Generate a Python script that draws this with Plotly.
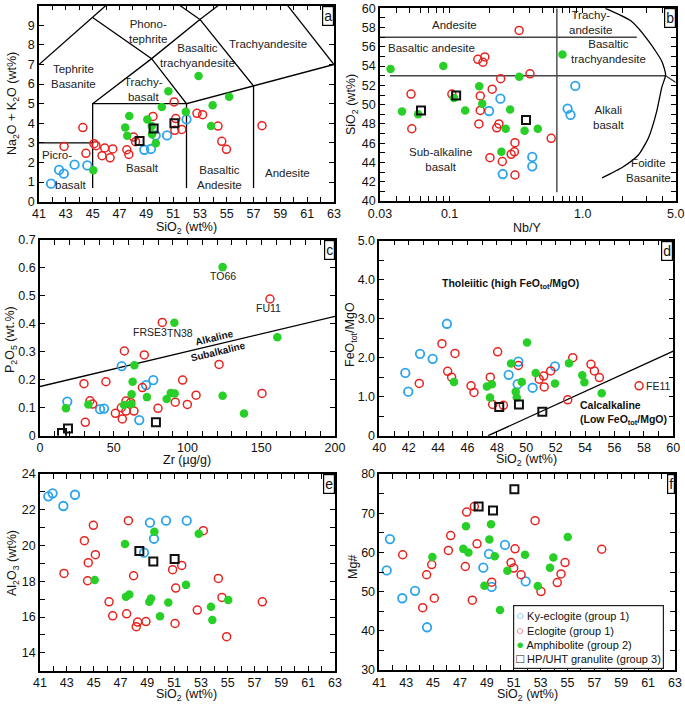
import math
import plotly.graph_objects as go

W, H = 685, 705
FONT = "Liberation Sans"
C_KY, C_EC, C_AM, C_GR = "#2AA4EE", "#E8231F", "#27CF27", "#111111"
NAMES = ["Ky-eclogite (group 1)", "Eclogite (group 1)", "Amphibolite (group 2)", "HP/UHT granulite (group 3)"]

# ---------------- Panel a (TAS) ----------------
a_ky_si = [41.9, 42.5, 42.85, 43.65, 44.6, 48.85, 49.35, 49.7, 50.55, 52.0]
a_ky_alk = [0.92, 1.62, 1.43, 1.89, 1.85, 2.65, 2.69, 3.38, 3.38, 4.2]
a_ec_si = [42.87, 44.27, 44.5, 45.1, 45.25, 45.7, 45.9, 46.3, 46.5, 47.55, 47.7, 48.05, 48.2,
           49.5, 51.08, 51.2, 51.13, 51.65, 52.78, 53.2, 54.35, 54.63, 54.98, 57.63]
a_ec_alk = [2.82, 3.78, 2.47, 2.96, 2.86, 2.35, 2.74, 2.24, 2.69, 2.65, 2.41, 3.3, 3.06,
            4.35, 5.09, 4.24, 3.64, 3.69, 4.51, 4.44, 3.86, 3.08, 2.67, 3.88]
a_am_si = [45.05, 47.43, 47.58, 47.73, 49.08, 49.41, 49.43, 49.71, 50.16, 50.65, 51.95, 52.9, 53.95, 53.83, 55.18]
a_am_alk = [1.6, 3.79, 3.37, 4.37, 4.2, 3.86, 3.44, 2.98, 4.83, 5.63, 4.59, 6.41, 4.92, 3.86, 5.36]
a_gr_si = [48.5, 49.55, 51.1]
a_gr_alk = [3.1, 3.74, 4.0]

tas_x = [[41, 45], [45, 45, 52, 52], [41, 45, 45.97], [45, 49.4, 52, 57, 63],
         [45, 49.4, 53, 51.54], [53, 57, 57], [53, 54.34], [59.55, 63]]
tas_y = [[3, 3], [0.7, 5, 5, 0.7], [7, 9.4, 10], [9.4, 7.3, 5, 5.9, 7],
         [5, 7.3, 9.3, 10], [9.3, 5.9, 0.7], [9.3, 10], [10, 7]]
tas_lab = ["Phono-<br>tephrite", "Tephrite<br>Basanite", "Trachy-<br>basalt", "Basaltic<br>trachyandesite",
           "Trachyandesite", "Picro-", "basalt", "Basalt", "Basaltic<br>Andesite", "Andesite"]
tas_lab_x = [49.1, 43.6, 48.8, 52.8, 58.1, 42.35, 43.35, 48.7, 54.45, 59.5]
tas_lab_y = [8.7, 6.4, 5.75, 7.45, 8.03, 2.38, 0.85, 1.7, 1.25, 1.45]

# ---------------- Panel b (Nb/Y vs SiO2) ----------------
b_ky_nb = [0.198, 0.241, 0.251, 0.418, 0.418, 0.77, 0.81, 0.88]
b_ky_si = [49.34, 50.62, 42.8, 44.57, 43.6, 49.58, 48.93, 51.94]
b_ec_nb = [0.0513, 0.052, 0.104, 0.163, 0.178, 0.184, 0.17, 0.17, 0.166, 0.209, 0.242, 0.226, 0.235,
           0.201, 0.249, 0.29, 0.307, 0.31, 0.31, 0.333, 0.402, 0.58]
b_ec_si = [51.1, 47.5, 51.1, 54.7, 54.4, 54.95, 50.9, 49.4, 48.0, 51.6, 52.7, 47.6, 48.0,
           44.5, 44.1, 44.85, 45.1, 46.05, 42.7, 57.7, 53.2, 46.5]
b_am_nb = [0.036, 0.0439, 0.058, 0.0897, 0.108, 0.131, 0.167, 0.176, 0.245, 0.264, 0.285, 0.334, 0.366, 0.46, 0.705]
b_am_si = [53.7, 49.3, 49.0, 54.0, 50.7, 49.4, 51.9, 50.1, 45.1, 47.5, 49.5, 52.9, 47.3, 47.5, 55.2]
b_gr_nb = [0.061, 0.112, 0.375]
b_gr_si = [49.4, 50.95, 48.4]

wp_x = [[0.03, 2.55], [0.0356, 4.2, 5.0], [0.64, 0.64],
        [1.48, 2.3, 3.13, 3.93, 4.2, 3.93, 3.6, 3.13, 2.63, 1.99, 1.4]]
wp_y = [[57, 57], [53, 53, 52.3], [40.9, 60],
        [60, 58.7, 56.6, 54.5, 53.1, 51.8, 49.3, 46.6, 44.8, 43.5, 42.4]]
wp_lab = ["Andesite", "Basaltic andesite", "Trachy-<br>andesite", "Basaltic<br>trachyandesite",
          "Alkali<br>basalt", "Foidite<br>Basanite", "Sub-alkaline<br>basalt"]
wp_lab_x = [0.109, 0.0735, 1.14, 1.57, 1.57, 3.13, 0.0848]
wp_lab_y = [58.3, 55.9, 58.55, 55.5, 48.7, 43.15, 44.35]

# ---------------- Panel c (Zr vs P2O5) ----------------
c_ky_zr = [18.5, 40.7, 43.4, 55.4, 67.3, 71.9, 76.8]
c_ky_p = [0.122, 0.095, 0.097, 0.249, 0.056, 0.181, 0.199]
c_ec_zr = [29.8, 30.7, 33.9, 35.7, 44.7, 51.1, 55.1, 55.8, 57.2, 58.3, 58.3, 61.5, 63.7, 69.4, 70.7,
           80.0, 82.9, 96.7, 121.4, 105.8, 91.7, 99.9, 150.5, 155.9]
c_ec_p = [0.186, 0.048, 0.125, 0.113, 0.193, 0.08, 0.1, 0.06, 0.303, 0.124, 0.088, 0.119, 0.088, 0.172, 0.289,
          0.098, 0.405, 0.199, 0.255, 0.145, 0.12, 0.112, 0.151, 0.489]
c_am_zr = [17.6, 32.8, 57.0, 61.9, 64.0, 62.8, 62.1, 72.5, 85.9, 88.6, 91.3, 91.1, 123.8, 160.9, 123.8, 138.3]
c_am_p = [0.098, 0.112, 0.11, 0.113, 0.252, 0.193, 0.148, 0.138, 0.131, 0.153, 0.151, 0.404, 0.603, 0.352, 0.143, 0.079]
c_gr_zr = [14.9, 19.0, 78.6]
c_gr_p = [0.0095, 0.026, 0.048]
c_line_zr = [0, 200]
c_line_p = [0.176, 0.427]
c_names = ["TO66", "FU11", "FRSE3", "TN38"]
c_names_zr = [123.8, 154.8, 74.6, 94.9]
c_names_p = [0.572, 0.458, 0.372, 0.368]

# ---------------- Panel d (SiO2 vs FeOt/MgO) ----------------
d_ky_si = [41.77, 41.97, 42.77, 43.63, 44.6, 48.8, 49.46, 49.41, 50.43, 51.95]
d_ky_r = [1.61, 1.13, 2.10, 1.97, 2.87, 1.56, 1.9, 1.32, 1.23, 1.78]
d_ec_si = [42.72, 44.26, 44.65, 44.92, 45.15, 46.24, 46.44, 47.55, 47.71, 48.44, 48.05, 49.46, 50.88,
           51.18, 51.66, 51.22, 52.82, 53.16, 54.4, 54.63, 54.97, 57.67]
d_ec_r = [1.34, 2.36, 1.65, 1.5, 2.11, 1.28, 1.11, 1.5, 0.80, 0.78, 2.15, 1.80, 1.45,
          1.53, 1.66, 1.25, 0.92, 2.0, 1.83, 1.66, 1.49, 1.28]
d_am_si = [45.08, 47.32, 47.66, 47.53, 48.96, 49.28, 49.35, 49.69, 50.05, 50.64, 51.95, 52.9, 53.81, 53.95, 55.13]
d_am_r = [1.38, 1.26, 1.32, 0.98, 1.85, 1.13, 0.98, 1.38, 2.39, 1.61, 1.34, 1.86, 1.55, 1.37, 1.09]
d_gr_si = [48.16, 49.5, 51.09]
d_gr_r = [0.735, 0.80, 0.615]
d_line_si = [47.4, 60]
d_line_r = [0.0, 2.17]

# ---------------- Panel e (SiO2 vs Al2O3) ----------------
e_ky_si = [41.62, 41.94, 42.74, 43.61, 48.76, 49.2, 49.5, 50.4, 51.94]
e_ky_al = [22.75, 22.92, 22.21, 22.84, 19.6, 21.28, 20.38, 21.39, 21.39]
e_ec_si = [42.79, 44.31, 44.98, 44.6, 44.55, 45.13, 46.15, 46.42, 47.59, 47.46, 47.98, 48.28, 48.18, 48.9,
           50.89, 51.12, 51.07, 51.57, 53.18, 52.73, 54.3, 54.57, 54.92, 57.58]
e_ec_al = [18.44, 20.27, 21.13, 19.04, 18.03, 19.49, 16.85, 16.07, 21.39, 16.18, 18.31, 15.72, 15.46, 15.75,
           18.65, 17.62, 15.64, 18.89, 20.83, 16.39, 18.16, 17.1, 14.9, 16.85]
e_am_si = [45.08, 47.34, 47.41, 47.66, 49.15, 49.28, 49.53, 49.95, 50.57, 51.89, 52.84, 53.75, 53.85, 55.04]
e_am_al = [18.07, 20.08, 17.13, 17.26, 16.85, 17.04, 20.77, 16.05, 16.82, 17.8, 20.66, 16.57, 15.83, 16.95]
e_gr_si = [48.41, 49.45, 51.04]
e_gr_al = [19.69, 19.11, 19.24]

# ---------------- Panel f (SiO2 vs Mg#) ----------------
f_ky_si = [41.55, 41.79, 42.71, 43.66, 44.55, 48.74, 49.16, 49.36, 50.35, 51.89]
f_ky_mg = [55.4, 63.4, 48.3, 50.2, 40.9, 56.1, 59.6, 51.2, 61.9, 52.6]
f_ec_si = [42.74, 44.23, 44.52, 44.9, 45.09, 46.14, 46.31, 47.4, 47.5, 47.92, 48.07, 48.27, 49.36,
           51.1, 50.8, 51.0, 51.55, 52.59, 54.24, 54.52, 54.82, 53.03, 57.55]
f_ec_mg = [59.4, 45.9, 54.3, 56.9, 48.3, 60.5, 64.3, 56.4, 70.3, 47.8, 71.7, 62.2, 52.4,
           60.9, 57.4, 56.0, 54.3, 68.1, 52.3, 54.5, 57.4, 50.0, 60.8]
f_am_si = [44.95, 47.25, 47.45, 47.63, 48.82, 49.98, 49.19, 49.31, 49.59, 50.53, 51.84, 53.7, 53.95, 55.02, 52.79]
f_am_mg = [58.8, 60.9, 66.7, 60.0, 51.5, 45.3, 63.3, 67.2, 59.0, 55.3, 59.4, 56.1, 58.7, 63.9, 51.4]
f_gr_si = [48.39, 49.46, 51.05]
f_gr_mg = [71.7, 70.7, 76.1]

# ---------------- layout geometry (pixels on the page) ----------------
boxes = {  # left, right, top, bottom
    1: (39, 334, 5.7, 201.7),
    2: (380, 675.7, 8.3, 201),
    3: (40, 335, 240, 435.7),
    4: (379.3, 673.3, 240.7, 435.7),
    5: (40, 335, 474, 670.7),
    6: (379.3, 675, 474, 670),
}


def px(xp, yp):
    return xp / W, 1 - yp / H


def dom(i):
    l, r, t, b = boxes[i]
    x0, y0 = px(l, b)
    x1, y1 = px(r, t)
    return [x0, x1], [y0, y1]


fig = go.Figure()

styles = [
    dict(symbol="circle-open", size=8.5, color=C_KY, line=dict(width=1.8, color=C_KY)),
    dict(symbol="circle-open", size=8, color=C_EC, line=dict(width=1.5, color=C_EC)),
    dict(symbol="circle", size=8.5, color=C_AM, line=dict(width=0)),
    dict(symbol="square-open", size=8, color=C_GR, line=dict(width=2, color=C_GR)),
]

panels = [
    (1, [(a_ky_si, a_ky_alk), (a_ec_si, a_ec_alk), (a_am_si, a_am_alk), (a_gr_si, a_gr_alk)]),
    (2, [(b_ky_nb, b_ky_si), (b_ec_nb, b_ec_si), (b_am_nb, b_am_si), (b_gr_nb, b_gr_si)]),
    (3, [(c_ky_zr, c_ky_p), (c_ec_zr, c_ec_p), (c_am_zr, c_am_p), (c_gr_zr, c_gr_p)]),
    (4, [(d_ky_si, d_ky_r), (d_ec_si, d_ec_r), (d_am_si, d_am_r), (d_gr_si, d_gr_r)]),
    (5, [(e_ky_si, e_ky_al), (e_ec_si, e_ec_al), (e_am_si, e_am_al), (e_gr_si, e_gr_al)]),
    (6, [(f_ky_si, f_ky_mg), (f_ec_si, f_ec_mg), (f_am_si, f_am_mg), (f_gr_si, f_gr_mg)]),
]


def axref(i):
    s = "" if i == 1 else str(i)
    return "x" + s, "y" + s


LINE = dict(color="black", width=1.3)

for xs, ys in zip(tas_x, tas_y):
    fig.add_trace(go.Scatter(x=xs, y=ys, mode="lines", line=LINE, showlegend=False, hoverinfo="skip",
                             xaxis="x", yaxis="y"))
for xs, ys in zip(wp_x, wp_y):
    fig.add_trace(go.Scatter(x=xs, y=ys, mode="lines",
                             line=dict(color="black", width=1.3, shape="spline", smoothing=0.6)
                             if len(xs) > 3 else dict(color="#444", width=1.4),
                             showlegend=False, hoverinfo="skip", xaxis="x2", yaxis="y2"))
fig.add_trace(go.Scatter(x=c_line_zr, y=c_line_p, mode="lines", line=LINE, showlegend=False,
                         hoverinfo="skip", xaxis="x3", yaxis="y3"))
fig.add_trace(go.Scatter(x=d_line_si, y=d_line_r, mode="lines", line=LINE, showlegend=False,
                         hoverinfo="skip", xaxis="x4", yaxis="y4"))

for i, series in panels:
    xa, ya = axref(i)
    for k, (xs, ys) in enumerate(series):
        fig.add_trace(go.Scatter(x=xs, y=ys, mode="markers", marker=styles[k], name=NAMES[k],
                                 legendgroup=NAMES[k], showlegend=False, xaxis=xa, yaxis=ya))


def axis(i, rng, tickvals, ticktext=None, minor=None, typ="linear", is_x=True):
    d, e = dom(i)
    xa, ya = axref(i)
    a = dict(domain=d if is_x else e, range=rng, type=typ, anchor=ya if is_x else xa,
             showline=True, linecolor="black", linewidth=1.5, mirror="ticks",
             ticks="inside", ticklen=5, tickwidth=1.2, tickcolor="black",
             showgrid=False, zeroline=False, tickmode="array", tickvals=tickvals, automargin=False,
             tickfont=dict(family=FONT, size=12.5, color="#111"))
    if ticktext is not None:
        a["ticktext"] = ticktext
    if minor is not None:
        a["minor"] = dict(ticks="inside", ticklen=5, tickwidth=1.1, tickcolor="black",
                          tickmode="array", tickvals=minor, showgrid=False)
    return a


def rng_list(a, b, s):
    out = []
    v = a
    while v <= b + 1e-9:
        out.append(round(v, 6))
        v += s
    return out


lay = {}
lay["xaxis"] = axis(1, [41, 63], rng_list(41, 63, 2), minor=rng_list(41, 63, 1))
lay["yaxis"] = axis(1, [0, 10], rng_list(0, 10, 1), is_x=False)
b_ticks = [0.03, 0.1, 1, 5]
b_minor = [0.04, 0.05, 0.06, 0.07, 0.08, 0.09, 0.2, 0.3, 0.4, 0.5, 0.6, 0.7, 0.8, 0.9, 2, 3, 4]
lay["xaxis2"] = axis(2, [math.log10(0.03), math.log10(5)], b_ticks, ["0.03", "0.1", "1.0", "5.0"],
                     minor=b_minor, typ="log")
lay["yaxis2"] = axis(2, [40, 60], rng_list(40, 60, 2), minor=rng_list(40, 60, 1), is_x=False)
lay["xaxis3"] = axis(3, [0, 200], rng_list(0, 200, 50), minor=rng_list(0, 200, 10))
c_yt = rng_list(0, 0.7, 0.1)
lay["yaxis3"] = axis(3, [0, 0.7], c_yt, ["0"] + ["%.1f" % v for v in c_yt[1:]], is_x=False)
lay["xaxis4"] = axis(4, [40, 60], rng_list(40, 60, 2), minor=rng_list(40, 60, 1))
d_yt = rng_list(0, 5, 1)
lay["yaxis4"] = axis(4, [0, 5], d_yt, ["0"] + ["%.1f" % v for v in d_yt[1:]], minor=rng_list(0, 5, 0.5), is_x=False)
lay["xaxis5"] = axis(5, [41, 63], rng_list(41, 63, 2), minor=rng_list(41, 63, 1))
lay["yaxis5"] = axis(5, [13, 24], rng_list(14, 24, 2), minor=rng_list(13, 24, 1), is_x=False)
lay["xaxis6"] = axis(6, [41, 63], rng_list(41, 63, 2), minor=rng_list(41, 63, 1))
lay["yaxis6"] = axis(6, [30, 80], rng_list(30, 80, 10), minor=rng_list(30, 80, 5), is_x=False)

ann = []
TXT = dict(family=FONT, size=11.5, color="#222")
for t, x, y in zip(tas_lab, tas_lab_x, tas_lab_y):
    ann.append(dict(text=t, x=x, y=y, xref="x", yref="y", showarrow=False, font=TXT))
for t, x, y in zip(wp_lab, wp_lab_x, wp_lab_y):
    ann.append(dict(text=t, x=math.log10(x), y=y, xref="x2", yref="y2", showarrow=False, font=TXT))
for t, x, y in zip(c_names, c_names_zr, c_names_p):
    ann.append(dict(text=t, x=x, y=y, xref="x3", yref="y3", showarrow=False,
                    font=dict(family=FONT, size=10.5, color="#222")))
ann.append(dict(text="<b>Alkaline</b>", x=118.6, y=0.35, xref="x3", yref="y3", showarrow=False,
                textangle=-13.5, font=dict(family=FONT, size=10, color="#111")))
ann.append(dict(text="<b>Subalkaline</b>", x=121, y=0.302, xref="x3", yref="y3", showarrow=False,
                textangle=-13.5, font=dict(family=FONT, size=10, color="#111")))
ann.append(dict(text="<b>Tholeiitic (high FeO<sub>tot</sub>/MgO)</b>", x=48.9, y=3.88, xref="x4", yref="y4",
                showarrow=False, font=dict(family=FONT, size=10.5, color="#111")))
ann.append(dict(text="<b>Calcalkaline<br>(Low FeO<sub>tot</sub>/MgO)</b>", x=53.55, y=0.57, xref="x4", yref="y4",
                xanchor="left", align="left", showarrow=False, font=dict(family=FONT, size=10.5, color="#111")))
ann.append(dict(text="FE11", x=58.0, y=1.28, xref="x4", yref="y4", xanchor="left", showarrow=False,
                font=dict(family=FONT, size=10.5, color="#222")))

for i, letter in zip(range(1, 7), "abcdef"):
    l, r, t, b = boxes[i]
    xx, yy = px(r, t)
    ann.append(dict(text=letter, x=xx, y=yy, xref="paper", yref="paper", xanchor="right", yanchor="top",
                    showarrow=False, bgcolor="white", bordercolor="black", borderwidth=1.2, borderpad=1,
                    font=dict(family=FONT, size=14, color="#111")))

TT = dict(family=FONT, size=12.5, color="#111")
xt = [("SiO<sub>2</sub> (wt%)", 186, 228), ("Nb/Y", 527, 228), ("Zr (µg/g)", 187, 459.5),
      ("SiO<sub>2</sub> (wt%)", 526, 459.5), ("SiO<sub>2</sub> (wt%)", 187, 695), ("SiO<sub>2</sub> (wt%)", 527, 695)]
for t, xp, yp in xt:
    xx, yy = px(xp, yp)
    ann.append(dict(text=t, x=xx, y=yy, xref="paper", yref="paper", xanchor="center", yanchor="middle",
                    showarrow=False, font=TT))
yt = [("Na<sub>2</sub>O + K<sub>2</sub>O (wt%)", 13, 104), ("SiO<sub>2</sub> (wt%)", 352, 105),
      ("P<sub>2</sub>O<sub>5</sub> (wt.%)", 11, 340), ("FeO<sub>tot</sub>/MgO", 351, 335),
      ("Al<sub>2</sub>O<sub>3</sub> (wt%)", 13, 563), ("Mg#", 353, 567)]
for t, xp, yp in yt:
    xx, yy = px(xp, yp)
    ann.append(dict(text=t, x=xx, y=yy, xref="paper", yref="paper", xanchor="center", yanchor="middle",
                    showarrow=False, textangle=-90, font=TT))

glyphs = ["○", "○", "●", "□"]
colors = [C_KY, C_EC, C_AM, C_GR]
leg_text = "<br>".join('<span style="color:%s;font-size:13px">%s</span> %s' % (c, g, n)
                       for c, g, n in zip(colors, glyphs, NAMES))
lx, ly = px(513, 605)
ann.append(dict(text=leg_text, x=lx, y=ly, xref="paper", yref="paper", xanchor="left", yanchor="top",
                align="left", showarrow=False, bgcolor="white", bordercolor="#222", borderwidth=1.2, borderpad=2,
                font=dict(family=FONT, size=11, color="#111")))

fig.update_layout(
    width=W, height=H, margin=dict(l=0, r=0, t=0, b=0),
    paper_bgcolor="white", plot_bgcolor="white",
    font=dict(family=FONT, color="#111"),
    annotations=ann, showlegend=False,
    **lay,
)

fig.write_html("out.html", config={"displayModeBar": False},
               post_script="document.body.style.margin='0';document.body.style.overflow='hidden';")
